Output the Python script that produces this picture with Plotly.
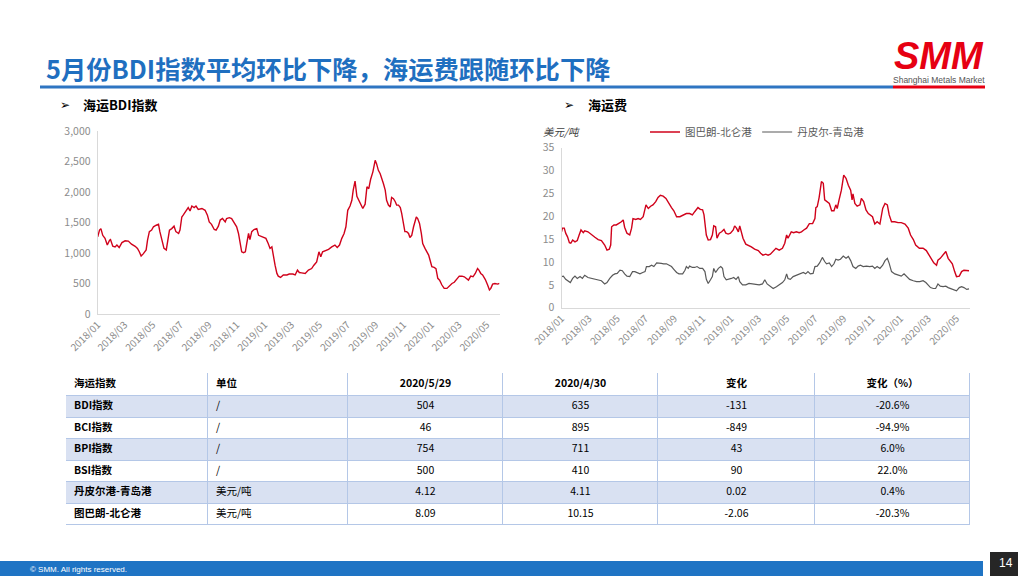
import plotly.graph_objects as go

W, H = 1024, 576

# ---------------- data: BDI index ----------------
bdi_dates = [
    "2018-01-01","2018-01-05","2018-01-08","2018-01-12","2018-01-17","2018-01-22","2018-01-27","2018-01-29","2018-02-03","2018-02-08",
    "2018-02-12","2018-02-17","2018-02-23","2018-03-02","2018-03-09","2018-03-16","2018-03-24","2018-03-29",
    "2018-04-02","2018-04-06","2018-04-11","2018-04-17","2018-04-20","2018-04-24","2018-04-29","2018-05-03","2018-05-09","2018-05-14",
    "2018-05-17","2018-05-22","2018-05-26","2018-05-31","2018-06-02","2018-06-07","2018-06-12","2018-06-17","2018-06-21","2018-06-27","2018-06-30",
    "2018-07-04","2018-07-07","2018-07-13","2018-07-18","2018-07-22","2018-07-26","2018-07-31","2018-08-04","2018-08-09","2018-08-17",
    "2018-08-24","2018-08-29","2018-09-02","2018-09-07","2018-09-13","2018-09-17",
    "2018-09-22","2018-09-26","2018-10-01","2018-10-07","2018-10-10","2018-10-16","2018-10-21","2018-10-26","2018-11-01","2018-11-05",
    "2018-11-08","2018-11-12","2018-11-16","2018-11-20","2018-11-23","2018-11-27","2018-11-30","2018-12-04","2018-12-09","2018-12-15",
    "2018-12-19","2018-12-24","2018-12-29",
    "2019-01-04","2019-01-09","2019-01-13","2019-01-17","2019-01-20","2019-01-24","2019-01-28","2019-01-31","2019-02-05","2019-02-11",
    "2019-02-19","2019-02-24","2019-03-04","2019-03-09","2019-03-14","2019-03-18","2019-03-23","2019-03-31","2019-04-07","2019-04-14",
    "2019-04-19","2019-04-25",
    "2019-04-30","2019-05-04","2019-05-08","2019-05-14","2019-05-21","2019-05-28","2019-06-04","2019-06-09","2019-06-14","2019-06-19",
    "2019-06-24","2019-06-28",
    "2019-07-02","2019-07-07","2019-07-11","2019-07-14","2019-07-18","2019-07-22","2019-07-26","2019-07-31","2019-08-04","2019-08-09",
    "2019-08-13","2019-08-17","2019-08-21","2019-08-26","2019-08-31","2019-09-03","2019-09-07","2019-09-11","2019-09-14","2019-09-18",
    "2019-09-22","2019-09-25","2019-09-29",
    "2019-10-03","2019-10-06","2019-10-10","2019-10-14","2019-10-17","2019-10-21","2019-10-25","2019-10-28","2019-11-01","2019-11-04",
    "2019-11-08","2019-11-12","2019-11-15","2019-11-19","2019-11-23","2019-11-29","2019-12-02","2019-12-06","2019-12-10","2019-12-13",
    "2019-12-18","2019-12-22","2019-12-26","2019-12-29",
    "2020-01-02","2020-01-07","2020-01-11","2020-01-15","2020-01-19","2020-01-24","2020-01-29","2020-02-04","2020-02-09","2020-02-15",
    "2020-02-20","2020-02-26","2020-03-02","2020-03-08","2020-03-13","2020-03-17","2020-03-22","2020-03-27","2020-04-01","2020-04-06",
    "2020-04-11","2020-04-14","2020-04-18","2020-04-22","2020-04-28","2020-05-03","2020-05-07","2020-05-10","2020-05-14","2020-05-19",
    "2020-05-25","2020-05-29",
]
bdi_values = [
    1265,1375,1400,1290,1240,1130,1210,1220,1110,1100,
    1130,1090,1170,1200,1195,1145,1110,1075,
    1020,950,990,1050,1210,1350,1375,1430,1455,1470,
    1350,1185,1075,1050,1155,1375,1400,1440,1350,1320,1375,
    1590,1620,1700,1745,1690,1770,1745,1770,1715,1730,
    1700,1620,1510,1470,1385,1375,
    1440,1540,1565,1510,1565,1580,1565,1510,1430,1320,
    1155,1020,1005,1020,1155,1320,1220,1350,1385,1400,
    1290,1275,1265,
    1240,1155,1075,1100,940,800,665,620,600,640,
    640,655,655,640,720,680,675,665,720,745,
    800,855,
    1020,940,1020,1035,1060,1100,1130,1090,1130,1240,
    1320,1430,
    1700,1770,1865,2030,2180,1930,1865,1770,1730,1800,
    2085,2055,2205,2330,2520,2465,2355,2300,2245,2140,
    2030,1865,1785,
    1755,1910,1890,1840,1785,1785,1745,1650,1510,1350,
    1350,1320,1255,1290,1430,1590,1565,1485,1320,1155,
    1075,1020,965,885,
    775,765,745,585,555,475,420,420,460,500,
    520,585,620,620,610,585,555,620,610,665,
    745,720,665,640,565,475,395,420,490,500,
    490,504,
]

# ---------------- data: freight, Tubarao - Beilun ----------------
tub_dates = [
    "2018-01-01","2018-01-03","2018-01-07","2018-01-10","2018-01-14","2018-01-18","2018-01-21","2018-01-25","2018-01-30","2018-02-04",
    "2018-02-08","2018-02-12","2018-02-17","2018-02-20","2018-02-27","2018-03-07","2018-03-14","2018-03-21","2018-03-28","2018-04-04",
    "2018-04-09","2018-04-14","2018-04-17","2018-04-19","2018-04-24","2018-04-29","2018-05-05","2018-05-10","2018-05-14","2018-05-17",
    "2018-05-22","2018-05-28","2018-06-01","2018-06-04","2018-06-10","2018-06-15","2018-06-20","2018-06-26","2018-07-02","2018-07-07",
    "2018-07-12","2018-07-17","2018-07-23","2018-07-28","2018-08-02","2018-08-08","2018-08-14","2018-08-19","2018-08-26","2018-08-31",
    "2018-09-06","2018-09-13","2018-09-20","2018-09-27","2018-10-04","2018-10-10","2018-10-15","2018-10-22","2018-10-27","2018-11-01",
    "2018-11-04","2018-11-06","2018-11-09","2018-11-13","2018-11-18","2018-11-22","2018-11-25","2018-11-29","2018-12-02","2018-12-07",
    "2018-12-12","2018-12-17","2018-12-21","2018-12-26","2018-12-31",
    "2019-01-06","2019-01-09","2019-01-13","2019-01-17","2019-01-20","2019-01-24","2019-01-27","2019-02-02","2019-02-07","2019-02-14",
    "2019-02-21","2019-03-01","2019-03-06","2019-03-11","2019-03-17","2019-03-22","2019-03-27","2019-04-02","2019-04-08","2019-04-15",
    "2019-04-22","2019-04-27","2019-05-01","2019-05-04","2019-05-08","2019-05-11","2019-05-16","2019-05-22","2019-05-28","2019-06-02",
    "2019-06-07","2019-06-13","2019-06-19","2019-06-26","2019-07-01","2019-07-03","2019-07-06","2019-07-10","2019-07-15","2019-07-19",
    "2019-07-22","2019-07-26","2019-08-01","2019-08-06","2019-08-11","2019-08-15","2019-08-18","2019-08-22","2019-08-27","2019-09-01",
    "2019-09-06","2019-09-11","2019-09-16","2019-09-19","2019-09-21","2019-09-25","2019-09-30","2019-10-06","2019-10-09","2019-10-14",
    "2019-10-19","2019-10-24","2019-10-29","2019-11-02","2019-11-07","2019-11-12","2019-11-18","2019-11-24","2019-11-29","2019-12-04",
    "2019-12-08","2019-12-13","2019-12-20","2019-12-27",
    "2020-01-03","2020-01-11","2020-01-18","2020-01-23","2020-01-29","2020-02-03","2020-02-11","2020-02-19","2020-02-26","2020-03-03",
    "2020-03-08","2020-03-13","2020-03-19","2020-03-22","2020-03-27","2020-04-02","2020-04-08","2020-04-13","2020-04-18","2020-04-22",
    "2020-04-27","2020-05-01","2020-05-07","2020-05-12","2020-05-17","2020-05-23","2020-05-28",
]
tub_values = [
    16.6,17.4,17.4,16.3,15.5,14.2,14.1,14.8,14.4,14.7,
    15.9,17.0,16.4,16.8,16.6,15.9,15.4,14.9,14.7,13.7,
    12.6,12.8,13.7,17.7,18.1,18.1,18.4,18.8,19.2,17.6,
    16.3,15.9,17.4,19.5,19.3,19.5,19.3,19.9,22.5,21.7,
    22.2,22.5,23.2,24.1,24.6,24.4,23.9,23.0,21.9,21.2,
    19.9,19.9,20.3,20.6,20.6,20.3,21.0,21.9,21.5,21.4,
    20.3,17.7,15.9,14.8,14.9,15.9,17.9,17.7,15.2,16.3,
    16.6,17.1,16.3,16.1,16.3,
    17.0,17.9,17.4,16.6,17.9,16.6,15.2,13.9,13.7,13.3,
    12.8,12.5,11.9,11.5,11.7,11.5,11.7,12.3,13.0,12.6,
    13.0,14.1,15.9,15.2,15.9,16.6,16.4,16.6,16.4,16.6,
    17.0,17.4,18.4,18.4,19.5,21.9,22.1,24.1,27.6,27.2,
    23.6,23.2,22.8,21.2,21.2,22.5,21.7,23.6,25.7,29.0,
    28.3,26.8,25.7,23.6,24.9,22.8,22.2,22.5,23.9,23.2,
    21.4,20.6,20.3,19.9,18.3,18.8,18.3,21.7,22.8,22.5,
    20.3,18.8,18.8,18.6,
    18.6,18.3,17.4,15.9,14.9,13.7,13.0,13.0,12.5,11.5,
    10.4,9.8,9.3,10.4,10.8,11.5,12.3,10.8,10.1,9.6,
    7.9,6.8,6.9,7.9,8.2,8.1,8.09,
]

# ---------------- data: freight, Dampier - Qingdao ----------------
dam_dates = [
    "2018-01-01","2018-01-05","2018-01-10","2018-01-15","2018-01-20","2018-01-25","2018-01-30","2018-02-04","2018-02-10","2018-02-15",
    "2018-02-20","2018-02-27","2018-03-07","2018-03-14","2018-03-21","2018-03-28","2018-04-04","2018-04-09","2018-04-15","2018-04-21",
    "2018-04-26","2018-05-01","2018-05-07","2018-05-12","2018-05-17","2018-05-22","2018-05-28","2018-06-03","2018-06-08","2018-06-13",
    "2018-06-19","2018-06-25","2018-06-30","2018-07-03","2018-07-09","2018-07-14","2018-07-19","2018-07-25","2018-07-30","2018-08-04",
    "2018-08-09","2018-08-15","2018-08-21","2018-08-26","2018-08-31","2018-09-06","2018-09-11","2018-09-19","2018-09-24","2018-09-27",
    "2018-10-01","2018-10-04","2018-10-10","2018-10-15","2018-10-20","2018-10-26","2018-11-01","2018-11-06","2018-11-09","2018-11-13",
    "2018-11-18","2018-11-22","2018-11-25","2018-11-29","2018-12-05","2018-12-10","2018-12-14","2018-12-17","2018-12-22","2018-12-28",
    "2019-01-02","2019-01-07","2019-01-12","2019-01-17","2019-01-20","2019-01-26","2019-02-02","2019-02-09","2019-02-16","2019-02-24",
    "2019-03-03","2019-03-10","2019-03-15","2019-03-20","2019-03-26","2019-04-02","2019-04-09","2019-04-16","2019-04-22","2019-04-27",
    "2019-05-01","2019-05-04","2019-05-09","2019-05-15","2019-05-22","2019-05-29","2019-06-06","2019-06-11","2019-06-16","2019-06-21",
    "2019-06-27","2019-07-01","2019-07-06","2019-07-11","2019-07-17","2019-07-22","2019-07-26","2019-08-01","2019-08-06","2019-08-11",
    "2019-08-15","2019-08-20","2019-08-25","2019-08-31","2019-09-06","2019-09-11","2019-09-16","2019-09-21","2019-09-27","2019-10-02",
    "2019-10-07","2019-10-13","2019-10-20","2019-10-27","2019-11-02","2019-11-07","2019-11-12","2019-11-18","2019-11-24","2019-11-29",
    "2019-12-04","2019-12-08","2019-12-13","2019-12-20","2019-12-27",
    "2020-01-03","2020-01-09","2020-01-14","2020-01-21","2020-01-29","2020-02-05","2020-02-12","2020-02-19","2020-02-25","2020-03-01",
    "2020-03-06","2020-03-12","2020-03-17","2020-03-22","2020-03-27","2020-04-02","2020-04-08","2020-04-13","2020-04-18","2020-04-24",
    "2020-05-01","2020-05-07","2020-05-12","2020-05-17","2020-05-23","2020-05-28",
]
dam_values = [
    6.8,6.9,6.2,5.9,5.5,6.4,6.9,6.4,6.8,6.4,
    7.1,6.6,6.4,6.2,6.1,5.9,5.2,5.5,6.4,7.1,
    7.4,7.5,8.2,8.1,7.4,6.9,6.8,7.9,7.9,7.7,
    7.4,7.7,7.9,9.0,9.0,9.3,9.0,9.8,9.8,9.7,
    9.6,9.6,9.3,9.0,8.4,7.7,7.4,7.4,8.2,9.0,
    8.6,9.1,8.8,8.8,9.0,8.6,8.6,7.9,6.2,5.3,
    6.1,6.8,8.6,7.7,8.6,9.0,8.6,6.8,6.1,6.2,
    6.4,6.6,6.2,6.8,5.7,5.0,5.0,5.3,5.2,5.0,
    5.0,5.2,6.1,5.2,4.7,4.2,4.6,5.0,5.5,6.1,
    7.4,6.4,6.2,6.8,7.1,7.4,7.7,7.4,7.9,7.4,
    7.5,9.0,9.1,9.8,11.0,10.1,9.6,9.8,9.0,9.6,
    10.6,10.4,10.6,11.3,10.8,11.2,10.3,9.0,8.6,9.1,
    9.3,9.0,9.1,9.0,9.1,8.6,9.0,8.6,9.3,10.3,
    10.8,9.7,7.9,7.4,7.1,
    6.9,7.4,6.8,6.2,5.9,5.7,5.7,5.9,5.5,5.0,
    4.4,4.2,4.2,5.2,4.7,4.6,4.7,4.4,4.2,4.0,
    3.7,4.4,4.6,4.4,4.0,4.12,
]

series_names = ["图巴朗-北仑港", "丹皮尔-青岛港"]

# ---------------- data: table ----------------
tbl_header = ["海运指数", "单位", "2020/5/29", "2020/4/30", "变化", "变化（%）"]
tbl_names = ["BDI指数", "BCI指数", "BPI指数", "BSI指数", "丹皮尔港-青岛港", "图巴朗-北仑港"]
tbl_units = ["/", "/", "/", "/", "美元/吨", "美元/吨"]
tbl_now = ["504", "46", "754", "500", "4.12", "8.09"]
tbl_prev = ["635", "895", "711", "410", "4.11", "10.15"]
tbl_chg = ["-131", "-849", "43", "90", "0.02", "-2.06"]
tbl_pct = ["-20.6%", "-94.9%", "6.0%", "22.0%", "0.4%", "-20.3%"]

title_text = "5月份BDI指数平均环比下降，海运费跟随环比下降"
sub_left = "海运BDI指数"
sub_right = "海运费"
unit_label = "美元/吨"

# ---------------- layout helpers ----------------
def px(x):
    return x / W

def py(y):
    return 1 - y / H

FONT = "Noto Sans CJK SC, Noto Sans, sans-serif"
RED = "#d0021b"
GREY_LINE = "#595959"
TICK_GREY = "#8c8c8c"
AXIS_GREY = "#d9d9d9"

# table grid layout (pixel units inside the table box)
col_edges = [0, 142, 282, 437, 592, 749, 904]
row_edges = [0, 23, 44.5, 66, 87.5, 109, 130.5, 152]
col_align = ["left", "left", "center", "center", "center", "center"]
row_shade = [0, 1, 0, 1, 0, 1, 0]
BORDER = "#b4c7e7"
SHADE = "#d9e1f2"

fig = go.Figure()

fig.add_trace(go.Scatter(x=bdi_dates, y=bdi_values, mode="lines",
                         line=dict(color=RED, width=1.4), showlegend=False,
                         hoverinfo="skip", xaxis="x", yaxis="y"))
fig.add_trace(go.Scatter(x=tub_dates, y=tub_values, mode="lines", name=series_names[0],
                         line=dict(color=RED, width=1.4), xaxis="x2", yaxis="y2"))
fig.add_trace(go.Scatter(x=dam_dates, y=dam_values, mode="lines", name=series_names[1],
                         line=dict(color=GREY_LINE, width=1.2), xaxis="x2", yaxis="y2"))

# ---- table drawn on its own hidden axes ----
fig.add_trace(go.Heatmap(z=[[0]], x=[col_edges[0], col_edges[-1]], y=[row_edges[0], row_edges[-1]],
                         colorscale=[[0, BORDER], [1, BORDER]], showscale=False,
                         hoverinfo="skip", xaxis="x3", yaxis="y3"))
ncols = len(col_edges) - 1
fig.add_trace(go.Heatmap(z=[[s] * ncols for s in row_shade], x=col_edges, y=row_edges,
                         zmin=0, zmax=1, colorscale=[[0, "white"], [1, SHADE]], showscale=False,
                         xgap=1, ygap=1, hoverinfo="skip", xaxis="x3", yaxis="y3"))

columns = [
    [f"<b>{tbl_header[0]}</b>"] + [f"<b>{n}</b>" for n in tbl_names],
    [f"<b>{tbl_header[1]}</b>"] + tbl_units,
    [f"<b>{tbl_header[2]}</b>"] + tbl_now,
    [f"<b>{tbl_header[3]}</b>"] + tbl_prev,
    [f"<b>{tbl_header[4]}</b>"] + tbl_chg,
    [f"<b>{tbl_header[5]}</b>"] + tbl_pct,
]
row_mid = [(row_edges[i] + row_edges[i + 1]) / 2 for i in range(len(row_edges) - 1)]
for j, col in enumerate(columns):
    if col_align[j] == "left":
        xpos = col_edges[j] + 8
        tpos = "middle right"
    else:
        xpos = (col_edges[j] + col_edges[j + 1]) / 2
        tpos = "middle center"
    fig.add_trace(go.Scatter(x=[xpos] * len(col), y=row_mid, text=col, mode="text",
                             textposition=tpos, showlegend=False, hoverinfo="skip",
                             textfont=dict(family=FONT, size=10.5, color="black"),
                             xaxis="x3", yaxis="y3"))

xcommon = dict(type="date", tickformat="%Y/%m", dtick="M2", tick0="2018-01-01",
               tickangle=-45, showgrid=False, zeroline=False, showline=True,
               linecolor=AXIS_GREY, linewidth=1, ticks="", automargin=False,
               tickfont=dict(family=FONT, size=10, color=TICK_GREY),
               range=["2018-01-01", "2020-05-29"], fixedrange=True)
ycommon = dict(showgrid=False, zeroline=False, showline=True, linecolor=AXIS_GREY,
               linewidth=1, ticks="", automargin=False, fixedrange=True,
               tickfont=dict(family=FONT, size=10.5, color=TICK_GREY),
               ticklabelstandoff=4)

fig.update_layout(
    width=W, height=H, autosize=False,
    margin=dict(l=0, r=0, t=0, b=0, pad=0),
    paper_bgcolor="white", plot_bgcolor="white",
    font=dict(family=FONT),
    xaxis=dict(domain=[px(97.7), px(499.5)], anchor="y", **xcommon),
    yaxis=dict(domain=[py(314), py(131)], anchor="x", range=[0, 3000], dtick=500,
               tickformat=",", **ycommon),
    xaxis2=dict(domain=[px(561.5), px(969.5)], anchor="y2", **xcommon),
    yaxis2=dict(domain=[py(307.7), py(147.7)], anchor="x2", range=[0, 35], dtick=5, **ycommon),
    xaxis3=dict(domain=[px(66), px(970)], anchor="y3", range=[col_edges[0], col_edges[-1]],
                visible=False, automargin=False, fixedrange=True),
    yaxis3=dict(domain=[py(525), py(373)], anchor="x3", range=[row_edges[-1], row_edges[0]],
                visible=False, automargin=False, fixedrange=True),
    legend=dict(orientation="h", x=px(645), y=py(132), xanchor="left", yanchor="middle",
                font=dict(family=FONT, size=10.5, color="#595959"),
                bgcolor="rgba(0,0,0,0)", itemwidth=30, tracegroupgap=0),
)

shapes = [
    dict(type="line", xref="paper", yref="paper", x0=px(40), x1=px(893), y0=py(87), y1=py(87),
         line=dict(color="#2e75c2", width=3)),
    dict(type="line", xref="paper", yref="paper", x0=px(893), x1=px(985), y0=py(87), y1=py(87),
         line=dict(color="#e60012", width=3)),
    dict(type="rect", xref="paper", yref="paper", x0=0, x1=px(983), y0=0, y1=py(561),
         fillcolor="#1f74c4", line=dict(width=0)),
    dict(type="rect", xref="paper", yref="paper", x0=px(990), x1=px(1018), y0=0, y1=py(552),
         fillcolor="#262626", line=dict(width=0)),
]
fig.update_layout(shapes=shapes)

ann = [
    dict(text=f"<b>{title_text}</b>", x=px(44), y=py(68), xanchor="left", yanchor="middle",
         font=dict(family=FONT, size=25.3, color="#1f6fc0")),
    dict(text="<b><i>SMM</i></b>", x=px(939), y=py(56), xanchor="center", yanchor="middle",
         font=dict(family="Liberation Sans, Arial, sans-serif", size=38, color="#e60012")),
    dict(text="Shanghai Metals Market", x=px(939), y=py(80), xanchor="center", yanchor="middle",
         font=dict(family="Liberation Sans Narrow, Liberation Sans, sans-serif", size=8.5, color="#555555")),
    dict(text="➢", x=px(58), y=py(105), xanchor="left", yanchor="middle",
         font=dict(family="DejaVu Sans", size=12, color="black")),
    dict(text=f"<b>{sub_left}</b>", x=px(81), y=py(105), xanchor="left", yanchor="middle",
         font=dict(family=FONT, size=13, color="black")),
    dict(text="➢", x=px(562), y=py(105), xanchor="left", yanchor="middle",
         font=dict(family="DejaVu Sans", size=12, color="black")),
    dict(text=f"<b>{sub_right}</b>", x=px(586), y=py(105), xanchor="left", yanchor="middle",
         font=dict(family=FONT, size=13, color="black")),
    dict(text=f"<i>{unit_label}</i>", x=px(541), y=py(132), xanchor="left", yanchor="middle",
         font=dict(family=FONT, size=10.5, color="#404040")),
    dict(text="© SMM. All rights reserved.", x=px(28), y=py(569), xanchor="left", yanchor="middle",
         font=dict(family="Liberation Sans Narrow, Liberation Sans, sans-serif", size=8, color="white")),
    dict(text="14", x=px(1006), y=py(563), xanchor="center", yanchor="middle",
         font=dict(family="Liberation Sans Narrow, Liberation Sans, sans-serif", size=12, color="white")),
]
for a in ann:
    a.update(xref="paper", yref="paper", showarrow=False)
fig.update_layout(annotations=ann)

fig.write_html("out.html", config={"displayModeBar": False},
               post_script="document.body.style.margin='0px';document.body.style.overflow='hidden';")
